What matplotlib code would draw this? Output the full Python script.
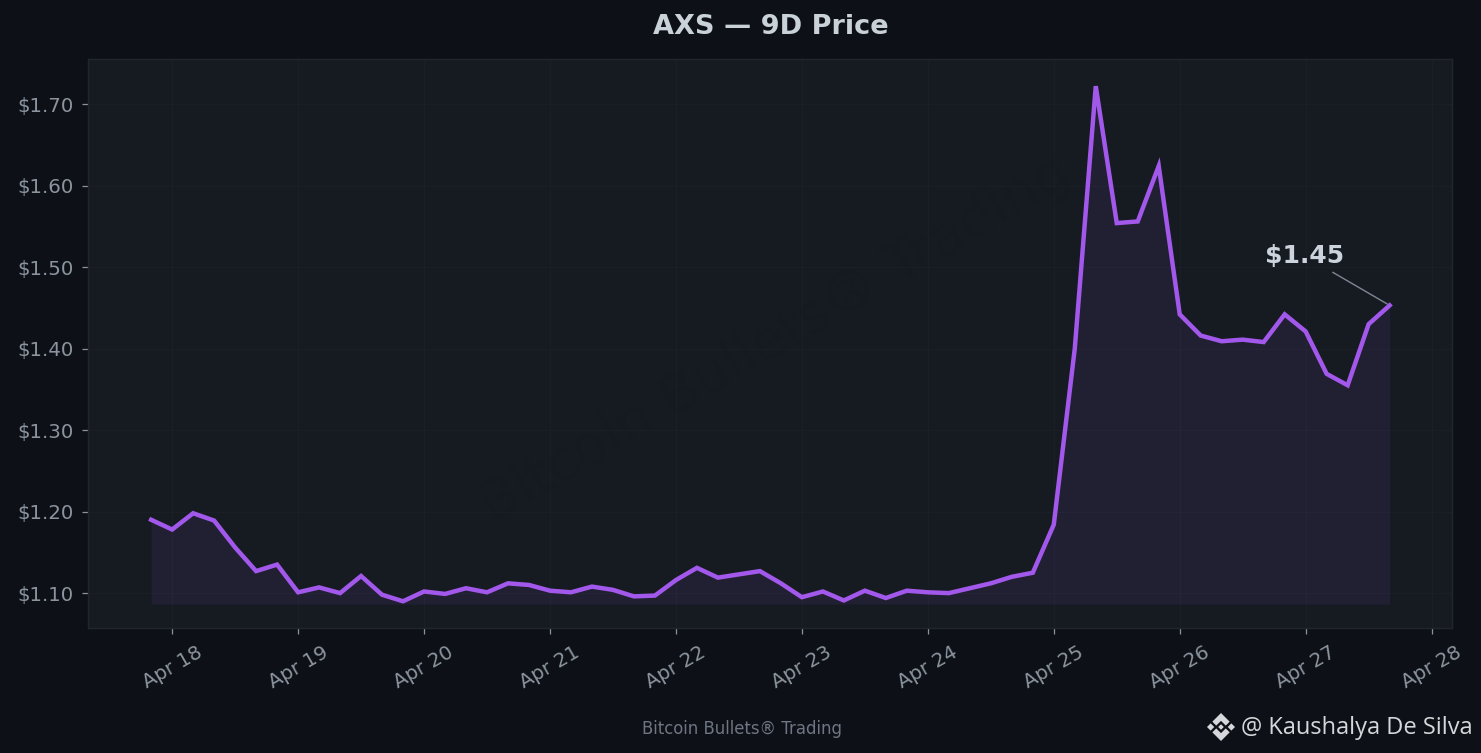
import matplotlib
matplotlib.use("Agg")
import matplotlib.pyplot as plt
import matplotlib.dates as mdates
from matplotlib.patches import Polygon
import numpy as np
import pandas as pd

# 4-hourly closes
start_time = "2025-04-17 20:00"
prices = [
    1.190, 1.178, 1.198, 1.189, 1.156, 1.127, 1.135, 1.101, 1.107, 1.100,
    1.121, 1.098, 1.090, 1.102, 1.099, 1.106, 1.101, 1.112, 1.110, 1.103,
    1.101, 1.108, 1.104, 1.096, 1.097, 1.116, 1.131, 1.119, 1.123, 1.127,
    1.112, 1.095, 1.102, 1.091, 1.103, 1.094, 1.103, 1.101, 1.100, 1.106,
    1.112, 1.120, 1.125, 1.184, 1.400, 1.722, 1.554, 1.556, 1.624, 1.442,
    1.416, 1.409, 1.411, 1.408, 1.442, 1.421, 1.369, 1.355, 1.430, 1.453,
]
fill_floor = 1.0865
price_ticks = [1.10, 1.20, 1.30, 1.40, 1.50, 1.60, 1.70]
title = "AXS — 9D Price"
last_label = "$1.45"
footer = "Bitcoin Bullets® Trading"
watermark = "Bitcoin Bullets® Trading"
handle = "@ Kaushalya De Silva"

BG = "#0d1017"
PANEL = "#161b22"
PURPLE = "#a358ec"
MUTED = "#8b949e"

times = pd.date_range(start_time, periods=len(prices), freq="4h")

fig = plt.figure(figsize=(14.81, 7.53), dpi=100, facecolor=BG)
ax = fig.add_axes([88 / 1481, 1 - 628 / 753, (1452 - 88) / 1481, (628 - 59) / 753])
ax.set_facecolor(PANEL)

ax.fill_between(times, prices, fill_floor, color="#a855f7", alpha=0.08, linewidth=0)
ax.plot(times, prices, color=PURPLE, linewidth=3.2, solid_joinstyle="miter")

ax.set_xlim(pd.Timestamp("2025-04-17 07:58"), pd.Timestamp("2025-04-28 03:53"))
ax.set_ylim(1.0572, 1.7553)
ax.set_yticks(price_ticks)
ax.yaxis.set_major_formatter(lambda v, pos: f"${v:.2f}")
ax.xaxis.set_major_locator(mdates.DayLocator())
ax.xaxis.set_major_formatter(mdates.DateFormatter("%b %d"))
ax.tick_params(axis="both", colors=MUTED, labelsize=14.2, length=4.5, width=0.9, pad=6)
ax.tick_params(axis="x", labelrotation=30, pad=6)
ax.grid(True, color="#1a1f27", linewidth=0.8)
ax.set_axisbelow(True)
for spine in ax.spines.values():
    spine.set_color("#21262d")
    spine.set_linewidth(1.0)

# barely visible diagonal mark behind the line
ax.text(0.504, 0.506, watermark, transform=ax.transAxes, rotation=30.5, fontsize=40,
        color="#000000", alpha=0.025, ha="center", va="center", zorder=1)

ax.annotate(last_label, xy=(times[-1], prices[-1]), xytext=(-61, 35.5),
            textcoords="offset points", ha="center", va="center",
            fontsize=18, fontweight="bold", color="#ccd3dc",
            arrowprops=dict(arrowstyle="-", color="#7f8794", linewidth=1.0))

fig.text(770.5 / 1481, 1 - 27 / 753, title, ha="center", va="center",
         fontsize=19.5, fontweight="bold", color="#c9d1d9")
fig.text(742.5 / 1481, 1 - 728.5 / 753, footer, ha="center", va="center",
         fontsize=11.9, color="#6e7681")
fig.text(1472.5 / 1481, 1 - 728 / 753, handle, ha="right", va="center",
         fontsize=17, family="Open Sans", color="#d5d7da")

# small diamond logo next to the handle
logo_x, logo_y, s = 1221, 727, 14
for shape in (
    [(0, -1), (0.62, -0.38), (0.34, -0.1), (0, -0.44), (-0.34, -0.1), (-0.62, -0.38)],
    [(0, 1), (0.62, 0.38), (0.34, 0.1), (0, 0.44), (-0.34, 0.1), (-0.62, 0.38)],
    [(-1, 0), (-0.74, -0.26), (-0.48, 0), (-0.74, 0.26)],
    [(1, 0), (0.74, -0.26), (0.48, 0), (0.74, 0.26)],
    [(0, -0.2), (0.2, 0), (0, 0.2), (-0.2, 0)],
):
    pts = np.array(shape) * s + [logo_x, logo_y]
    pts = pts / [1481, 753]
    pts[:, 1] = 1 - pts[:, 1]
    fig.add_artist(Polygon(pts, closed=True, transform=fig.transFigure,
                           facecolor="#d5d7da", edgecolor="none"))

fig.savefig("out.png", dpi=100, facecolor=BG)
